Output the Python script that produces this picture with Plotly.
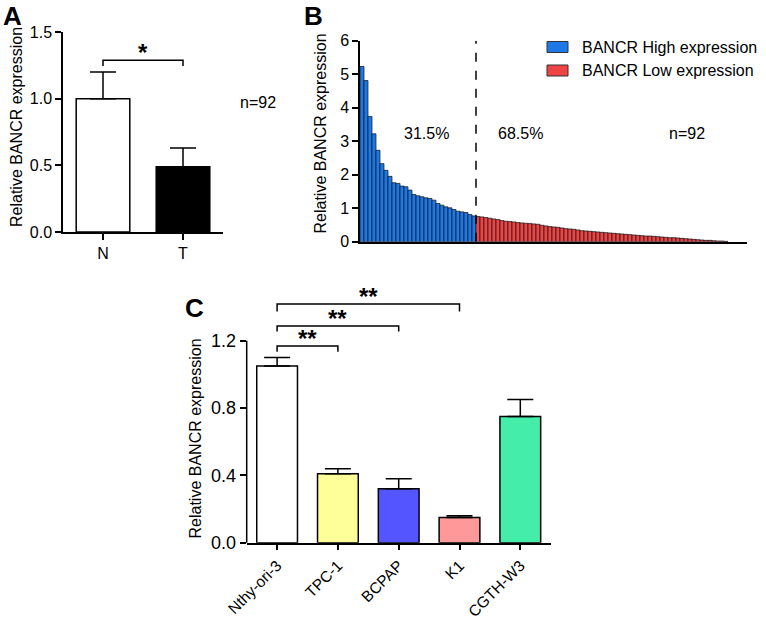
import plotly.graph_objects as go

# ---------------- data ----------------
groups_a = ["N", "T"]
values_a = [1.00, 0.49]
errors_a = [0.20, 0.14]

high_values = [5.23, 4.81, 3.74, 3.22, 2.73, 2.33, 2.13, 1.95, 1.76, 1.74,
               1.66, 1.64, 1.54, 1.41, 1.37, 1.34, 1.31, 1.29, 1.24, 1.14,
               1.09, 1.04, 1.01, 0.96, 0.91, 0.89, 0.87, 0.81, 0.77]
low_values = [0.75, 0.74, 0.72, 0.70, 0.68, 0.66, 0.63, 0.61, 0.60, 0.59,
              0.57, 0.56, 0.55, 0.54, 0.53, 0.52, 0.49, 0.47, 0.45, 0.44,
              0.43, 0.41, 0.39, 0.38, 0.37, 0.35, 0.33, 0.32, 0.31, 0.30,
              0.29, 0.28, 0.27, 0.26, 0.25, 0.24, 0.23, 0.22, 0.21, 0.20,
              0.19, 0.18, 0.17, 0.17, 0.16, 0.15, 0.14, 0.13, 0.12, 0.12,
              0.11, 0.10, 0.09, 0.08, 0.07, 0.06, 0.05, 0.04, 0.04, 0.03,
              0.02, 0.02, 0.01]
pct_labels = ["31.5%", "68.5%"]

cells = ["Nthy-ori-3", "TPC-1", "BCPAP", "K1", "CGTH-W3"]
values_c = [1.05, 0.41, 0.32, 0.15, 0.75]
errors_c = [0.05, 0.03, 0.06, 0.01, 0.10]

# significance brackets: (left idx, right idx, bar level, drop level, label)
brackets_a = [(0, 1, 1.288, 1.245, "*")]
brackets_c = [(0, 1, 1.169, 1.135, "**"),
              (0, 2, 1.288, 1.254, "**"),
              (0, 3, 1.418, 1.373, "**")]

# ---------------- style ----------------
W, H = 766, 618
FONT = "Liberation Sans, Arial, sans-serif"
colors_a = ["#FFFFFF", "#000000"]
colors_c = ["#FFFFFF", "#FFFF99", "#5555FF", "#FF9999", "#44EEAA"]
BLUE = "#1E78E6"
RED = "#EE4444"


def fx(p):
    return p / W


def fy(p):
    return 1 - p / H


dom_ax = [fx(63), fx(223)]
dom_ay = [fy(232), fy(32)]
dom_bx = [fx(360), fx(747)]
dom_by = [fy(241.7), fy(40.7)]
dom_cx = [fx(246.7), fx(550.7)]
dom_cy = [fy(542.7), fy(290.2)]

fig = go.Figure()

# Panel A
fig.add_trace(go.Bar(
    x=list(range(len(groups_a))), y=values_a, width=0.67,
    marker=dict(color=colors_a, line=dict(color="black", width=1.5)),
    error_y=dict(type="data", symmetric=False, array=errors_a,
                 arrayminus=[0] * len(errors_a), color="black",
                 thickness=1.5, width=13),
    xaxis="x", yaxis="y", showlegend=False))

# Panel B
n_high = len(high_values)
fig.add_trace(go.Bar(
    x=list(range(n_high)), y=high_values, width=1,
    marker=dict(color=BLUE, line=dict(color="#111111", width=0.7)),
    xaxis="x2", yaxis="y2", showlegend=False, name="BANCR High expression"))
fig.add_trace(go.Bar(
    x=list(range(n_high, n_high + len(low_values))), y=low_values, width=1,
    marker=dict(color=RED, line=dict(color="#111111", width=0.7)),
    xaxis="x2", yaxis="y2", showlegend=False, name="BANCR Low expression"))

# Panel C
fig.add_trace(go.Bar(
    x=list(range(len(cells))), y=values_c, width=0.67,
    marker=dict(color=colors_c, line=dict(color="black", width=1.5)),
    error_y=dict(type="data", symmetric=False, array=errors_c,
                 arrayminus=[0] * len(errors_c), color="black",
                 thickness=1.5, width=13),
    xaxis="x3", yaxis="y3", showlegend=False))

annotations = []


def add_brackets(brs, xa, ya, star_size, star_offset):
    for (i, j, lvl, drop, lab) in brs:
        fig.add_trace(go.Scatter(
            x=[i, i, j, j], y=[drop, lvl, lvl, drop], mode="lines",
            line=dict(color="black", width=1.5), xaxis=xa, yaxis=ya,
            showlegend=False, hoverinfo="skip"))
        annotations.append(dict(
            x=(i + j) / 2, y=lvl, xref=xa, yref=ya, text="<b>%s</b>" % lab,
            showarrow=False, yanchor="bottom", yshift=star_offset,
            font=dict(family=FONT, size=star_size, color="black")))


add_brackets(brackets_a, "x", "y", 24, -8)
add_brackets(brackets_c, "x3", "y3", 24, -8)

axis_common = dict(showgrid=False, zeroline=False, linecolor="black",
                   linewidth=1.5, ticks="outside", ticklen=6, tickwidth=1.5,
                   tickcolor="black", showline=True,
                   tickfont=dict(family=FONT, size=16, color="black"))
font_cx = dict(family=FONT, size=15.5, color="black")
font_cy = dict(family=FONT, size=18, color="black")

fig.update_layout(
    width=W, height=H, autosize=False,
    margin=dict(l=0, r=0, t=0, b=0, pad=0, autoexpand=False),
    paper_bgcolor="white", plot_bgcolor="white",
    barmode="overlay", showlegend=False,
    xaxis=dict(axis_common, domain=dom_ax, range=[-0.5, 1.5], anchor="y",
               tickvals=list(range(len(groups_a))), ticktext=groups_a),
    yaxis=dict(axis_common, domain=dom_ay, range=[0, 1.5], anchor="x",
               tickvals=[0, 0.5, 1.0, 1.5], ticktext=["0.0", "0.5", "1.0", "1.5"]),
    xaxis2=dict(axis_common, domain=dom_bx,
                range=[-0.5, 96.25], anchor="y2", ticks="", showticklabels=False),
    yaxis2=dict(axis_common, domain=dom_by, range=[0, 6], anchor="x2",
                tickvals=[0, 1, 2, 3, 4, 5, 6]),
    xaxis3=dict(axis_common, domain=dom_cx, range=[-0.5, 4.5], anchor="y3",
                tickvals=list(range(len(cells))), ticktext=cells, tickangle=-45,
                ticklabeloverflow="allow", tickfont=font_cx),
    yaxis3=dict(axis_common, domain=dom_cy, range=[0, 1.5], anchor="x3",
                showline=False, tickfont=font_cy,
                tickvals=[0, 0.4, 0.8, 1.2], ticktext=["0.0", "0.4", "0.8", "1.2"]),
)

shapes = []
# Panel C y axis line only up to 1.2
top_c = dom_cy[0] + (1.2 / 1.5) * (dom_cy[1] - dom_cy[0])
shapes.append(dict(type="line", xref="paper", yref="paper",
                   x0=dom_cx[0], x1=dom_cx[0], y0=dom_cy[0], y1=top_c,
                   line=dict(color="black", width=1.5)))
# Panel B divider
shapes.append(dict(type="line", xref="x2", yref="y2",
                   x0=n_high - 0.5, x1=n_high - 0.5, y0=0, y1=6,
                   line=dict(color="black", width=1.5, dash="dash")))
# Panel B legend boxes
legend_items = [("BANCR High expression", BLUE, 47), ("BANCR Low expression", RED, 70.5)]
for text, col, yc in legend_items:
    shapes.append(dict(type="rect", xref="paper", yref="paper",
                       x0=fx(547), x1=fx(568), y0=fy(yc + 5.5), y1=fy(yc - 5.5),
                       fillcolor=col, line=dict(color="#333333", width=1)))
    annotations.append(dict(x=fx(580), y=fy(yc), xref="paper", yref="paper",
                            text=text, showarrow=False, xanchor="left",
                            yanchor="middle",
                            font=dict(family=FONT, size=16, color="black")))

# Texts
txt_font = dict(family=FONT, size=16, color="black")
annotations.append(dict(x=fx(238), y=fy(92), xref="paper", yref="paper",
                        text="n=92", showarrow=False, font=txt_font))
annotations.append(dict(x=16, y=3.24, xref="x2", yref="y2",
                        text=pct_labels[0], showarrow=False, font=txt_font))
annotations.append(dict(x=39.5, y=3.24, xref="x2", yref="y2",
                        text=pct_labels[1], showarrow=False, font=txt_font))
annotations.append(dict(x=81.25, y=3.24, xref="x2", yref="y2",
                        text="n=92", showarrow=False, font=txt_font))

# Y titles
ytitle = "Relative BANCR expression"
for xc, yc in [(16.5, 127.5), (319.5, 134), (194.5, 439)]:
    annotations.append(dict(x=fx(xc), y=fy(yc), xref="paper", yref="paper",
                            text=ytitle, showarrow=False, textangle=-90,
                            xanchor="center", yanchor="middle",
                            font=dict(family=FONT, size=16, color="black")))

# Panel letters
for lab, xc, yt in [("A", 12.2, 0), ("B", 313, 0.5), ("C", 194, 292)]:
    annotations.append(dict(x=fx(xc), y=fy(yt), xref="paper", yref="paper",
                            text="<b>%s</b>" % lab, showarrow=False,
                            xanchor="center", yanchor="top", borderpad=0,
                            font=dict(family=FONT, size=26, color="black")))

fig.update_layout(shapes=shapes, annotations=annotations)
fig.write_html("out.html",
               config={"displayModeBar": False},
               post_script="document.body.style.margin='0px';"
                           "document.body.style.padding='0px';")
